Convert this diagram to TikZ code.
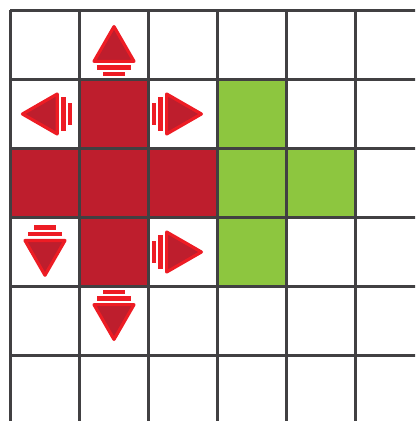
\documentclass[tikz,border=0pt]{standalone}
\definecolor{cellred}{HTML}{BE1E2D}
\definecolor{arrowred}{HTML}{ED1C24}
\definecolor{cellgreen}{HTML}{8DC63F}
\definecolor{gridgray}{HTML}{414042}
\begin{document}
\begin{tikzpicture}[
  gridline/.style={draw=gridgray, line width=1.6pt},
  movearrow/.pic={
    \fill[arrowred] (-0.455,-0.165) rectangle (-0.39,0.165);
    \fill[arrowred] (-0.36,-0.24) rectangle (-0.295,0.24);
    \filldraw[fill=cellred, draw=arrowred, line width=1.3pt, line join=round]
      (0.267,0) -- (-0.237,0.29) -- (-0.237,-0.29) -- cycle;
  },
]
  \useasboundingbox (-0.152,-5.949) rectangle (5.862,0.152);
  \clip (-0.152,-5.949) rectangle (5.862,0.152);
  \foreach \c/\r in {1/1, 0/2, 1/2, 2/2, 1/3}
    \fill[cellred] (\c,-\r) rectangle ++(1,-1);
  \foreach \c/\r in {3/1, 3/2, 4/2, 3/3}
    \fill[cellgreen] (\c,-\r) rectangle ++(1,-1);
  \draw[gridline] (0,-6) grid (6,0);
  \foreach \x/\y/\a in {1.5/-0.5/90, 0.44/-1.5/180, 2.5/-1.5/0, 0.5/-3.57/270, 2.5/-3.5/0, 1.5/-4.5/270}
    \pic[rotate=\a] at (\x,\y) {movearrow};
\end{tikzpicture}
\end{document}
